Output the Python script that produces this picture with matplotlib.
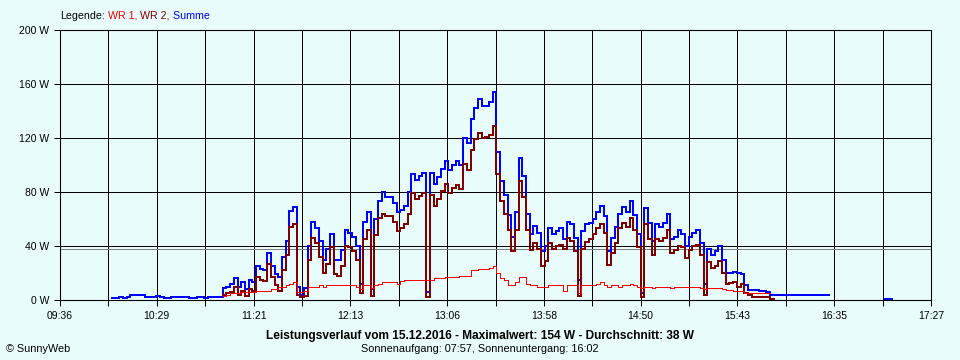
"""
Leistungsverlauf 15.12.2016 (SunnyWeb style day chart)
"""

import matplotlib.pyplot as plt, pandas as pd, numpy as np

plt.rcParams['font.family'] = ['Liberation Sans', 'DejaVu Sans']

# x axis labels (every second gridline) and y ticks
time_labels = ['09:36', '10:29', '11:21', '12:13', '13:06', '13:58', '14:50', '15:43', '16:35', '17:27']
y_ticks = [0, 40, 80, 120, 160, 200]
avg_w = 38

# 2-minute samples from 10:04 to 17:06
times = pd.date_range('2016-12-15 10:04', '2016-12-15 17:06', freq='2min')
nan = np.nan

summe = [
    1.5, 1.5, 2, 1.5, 2, 3.5, 3.5, 4, 3.5, 2.5,          # 10:04
    2, 2, 3, 2, 1.5, 1.5, 2, 2.5, 2, 2,                  # 10:24
    2, 1.5, 1.5, 2, 2, 1.5, 2, 2, 2, 2.5,                # 10:44
    9, 10, 12, 16, 10, 13, 8, 15, 13, 25,                # 11:04
    23, 22, 35, 25, 19, 17, 32, 44, 66, 69,              # 11:24
    10, 4, 9, 40, 58, 53, 44, 30, 38, 49,                # 11:44
    30, 30, 37, 52, 50, 47, 40, 12, 58, 65,              # 12:04
    8, 60, 73, 80, 76, 76, 72, 65, 67, 70,               # 12:24
    80, 93, 89, 92, 94, 6, 94, 86, 91, 97,               # 12:44
    103, 96, 100, 103, 100, 120, 116, 134, 142, 149,     # 13:04
    144, 144, 147, 154, 110, 88, 78, 63, 47, 65,         # 13:24
    105, 92, 64, 49, 55, 50, 36, 40, 53, 49,             # 13:44
    51, 53, 45, 58, 56, 46, 15, 51, 56, 57,              # 14:04
    60, 65, 70, 62, 36, 46, 54, 64, 69, 65,              # 14:24
    73, 63, 49, 5, 68, 57, 44, 56, 54, 57,               # 14:44
    64, 45, 47, 52, 49, 40, 47, 50, 52, 42,              # 15:04
    12, 38, 33, 36, 40, 30, 20, 20, 21, 20,              # 15:24
    19, 11, 7.5, 7.5, 7.5, 7, 6.5, 6, 4, 3.5,            # 15:44
    3.5, 3.5, 3.5, 3.5, 3.5, 3.5, 3.5, 3.5, 3.5, 3.5,    # 16:04
    3.5, 3.5, 3.5, 3.5, nan, nan, nan, nan, nan, nan,    # 16:24
    nan, nan, nan, nan, nan, nan, nan, nan, nan, 0.5,    # 16:44
    0.5, nan,                                            # 17:04
]

wr2 = [
    nan, nan, nan, nan, nan, nan, nan, nan, nan, nan,    # 10:04
    nan, nan, nan, nan, nan, nan, nan, nan, nan, nan,    # 10:24
    nan, nan, nan, nan, nan, nan, nan, nan, nan, nan,    # 10:44
    4, 5, 6, 10, 4, 7, 3, 8, 7, 17,                      # 11:04
    15, 14, 27, 17, 11, 7, 22, 33, 54, 56,               # 11:24
    4, 2, 3, 30, 46, 42, 32, 20, 27, 39,                 # 11:44
    19, 18, 25, 40, 39, 36, 30, 5, 45, 52,               # 12:04
    3, 48, 61, 64, 62, 62, 58, 51, 53, 56,               # 12:24
    64, 79, 75, 77, 79, 2, 78, 70, 75, 81,               # 12:44
    86, 79, 83, 85, 82, 101, 96, 111, 119, 124,          # 13:04
    120, 121, 122, 129, 93, 73, 64, 52, 36, 52,          # 13:24
    88, 76, 52, 37, 42, 38, 25, 29, 42, 38,              # 13:44
    40, 41, 38, 46, 44, 36, 3, 38, 43, 45,               # 14:04
    49, 53, 56, 50, 26, 35, 42, 53, 57, 54,              # 14:24
    61, 52, 39, 2, 56, 45, 33, 45, 44, 46,               # 14:44
    52, 35, 37, 40, 39, 31, 37, 40, 41, 33,              # 15:04
    4, 28, 24, 25, 29, 20, 12, 12.5, 13, 10,             # 15:24
    12, 5.5, 3.5, 2.5, 2.5, 2, 2.5, 2, 1, nan,           # 15:44
    nan, nan, nan, nan, nan, nan, nan, nan, nan, nan,    # 16:04
    nan, nan, nan, nan, nan, nan, nan, nan, nan, nan,    # 16:24
    nan, nan, nan, nan, nan, nan, nan, nan, nan, nan,    # 16:44
    nan, nan,                                            # 17:04
]

wr1 = [
    nan, nan, nan, nan, nan, nan, nan, nan, nan, nan,    # 10:04
    nan, nan, nan, nan, nan, nan, nan, nan, nan, nan,    # 10:24
    nan, nan, nan, nan, nan, nan, nan, nan, nan, nan,    # 10:44
    3, 4, 5, 5, 5, 6, 6, 6, 6, 7,                        # 11:04
    7, 7, 7, 8, 8, 10, 10, 11, 12, 13,                   # 11:24
    6, 6, 7, 10, 10, 10, 11, 10, 11, 11,                 # 11:44
    11, 11, 11, 11, 11, 11, 10, 8, 11, 11,               # 12:04
    9, 11, 12, 13, 13, 13, 13, 12, 14, 15,               # 12:24
    15, 15, 15, 15, 15, 15, 15, 16, 16, 16,              # 12:44
    17, 17, 17, 17, 18, 18, 18, 22, 22, 23,              # 13:04
    23, 23, 24, 25, 20, 16, 15, 11, 11, 13,              # 13:24
    17, 17, 12, 11, 11, 10, 10, 10, 11, 11,              # 13:44
    11, 11, 7, 11, 11, 11, 5, 11, 11, 11,                # 14:04
    11, 12, 13, 11, 10, 11, 11, 10, 11, 11,              # 14:24
    12, 11, 10, 9, 10, 10, 9, 10, 10, 10,                # 14:44
    10, 9, 10, 10, 10, 10, 10, 10, 10, 9,                # 15:04
    8, 9, 9, 9, 9, 8, 7.5, 7.5, 7, 7,                    # 15:24
    6.5, 5.5, 5, 5, 5, 5, 5, 5, nan, nan,                # 15:44
    nan, nan, nan, nan, nan, nan, nan, nan, nan, nan,    # 16:04
    nan, nan, nan, nan, nan, nan, nan, nan, nan, nan,    # 16:24
    nan, nan, nan, nan, nan, nan, nan, nan, nan, nan,    # 16:44
    nan, nan,                                            # 17:04
]

bg = '#E8FCFC'
c_wr1, c_wr2, c_sum = '#FF0000', '#800000', '#0000FF'

# minutes since midnight
t = np.asarray(times.hour * 60 + times.minute, dtype=float)
def to_min(s):
    h, m = s.split(':')
    return int(h) * 60 + int(m)
t0, t1 = to_min(time_labels[0]), to_min(time_labels[-1])
grid_x = np.linspace(t0, t1, 2 * len(time_labels) - 1)

fig = plt.figure(figsize=(9.6, 3.6), dpi=100, facecolor=bg)
ax = fig.add_axes([60 / 960, 60 / 360, 871 / 960, 270 / 360], facecolor=bg)

ax.plot(t, summe, color=c_sum, lw=1.1, drawstyle='steps-post', zorder=3, antialiased=False)
ax.plot(t, wr2, color=c_wr2, lw=1.1, drawstyle='steps-post', zorder=4, antialiased=False)
ax.plot(t, wr1, color=c_wr1, lw=0.7, drawstyle='steps-post', zorder=5, antialiased=False)

# average line
ax.axhline(avg_w, color='#808080', lw=0.72, zorder=2, antialiased=False)

ax.set_xlim(t0, t1)
ax.set_ylim(y_ticks[0], y_ticks[-1])
ax.set_xticks(grid_x[::2], time_labels)
ax.set_xticks(grid_x[1::2], minor=True)
ax.set_yticks(y_ticks, [f'{v} W' for v in y_ticks])
ax.grid(True, which='both', color='black', lw=0.72, antialiased=False)
ax.set_axisbelow(True)
ax.tick_params(which='both', direction='out', length=4, width=0.72, color='black',
               labelsize=7.5, pad=4)
for s in ax.spines.values():
    s.set_color('black')
    s.set_linewidth(0.8)

# legend at top left
renderer = fig.canvas.get_renderer()
x = 60 / 960
for txt, col in [('Legende:', 'black'), (' WR 1,', c_wr1), (' WR 2,', c_wr2), (' Summe', c_sum)]:
    tt = fig.text(x, 1 - 16 / 360, txt, color=col, fontsize=7.7, va='center', ha='left')
    x = tt.get_window_extent(renderer).x1 / fig.bbox.width

fig.text(0.5, 1 - 336.5 / 360, 'Leistungsverlauf vom 15.12.2016 - Maximalwert: 154 W - Durchschnitt: 38 W',
         fontsize=8.6, fontweight='bold', ha='center', va='center')
fig.text(0.5, 1 - 349.5 / 360, 'Sonnenaufgang: 07:57, Sonnenuntergang: 16:02',
         fontsize=7.8, ha='center', va='center')
fig.text(6 / 960, 1 - 349 / 360, '© SunnyWeb', fontsize=7.8, ha='left', va='center')

fig.savefig('out.png', dpi=100, facecolor=bg)
